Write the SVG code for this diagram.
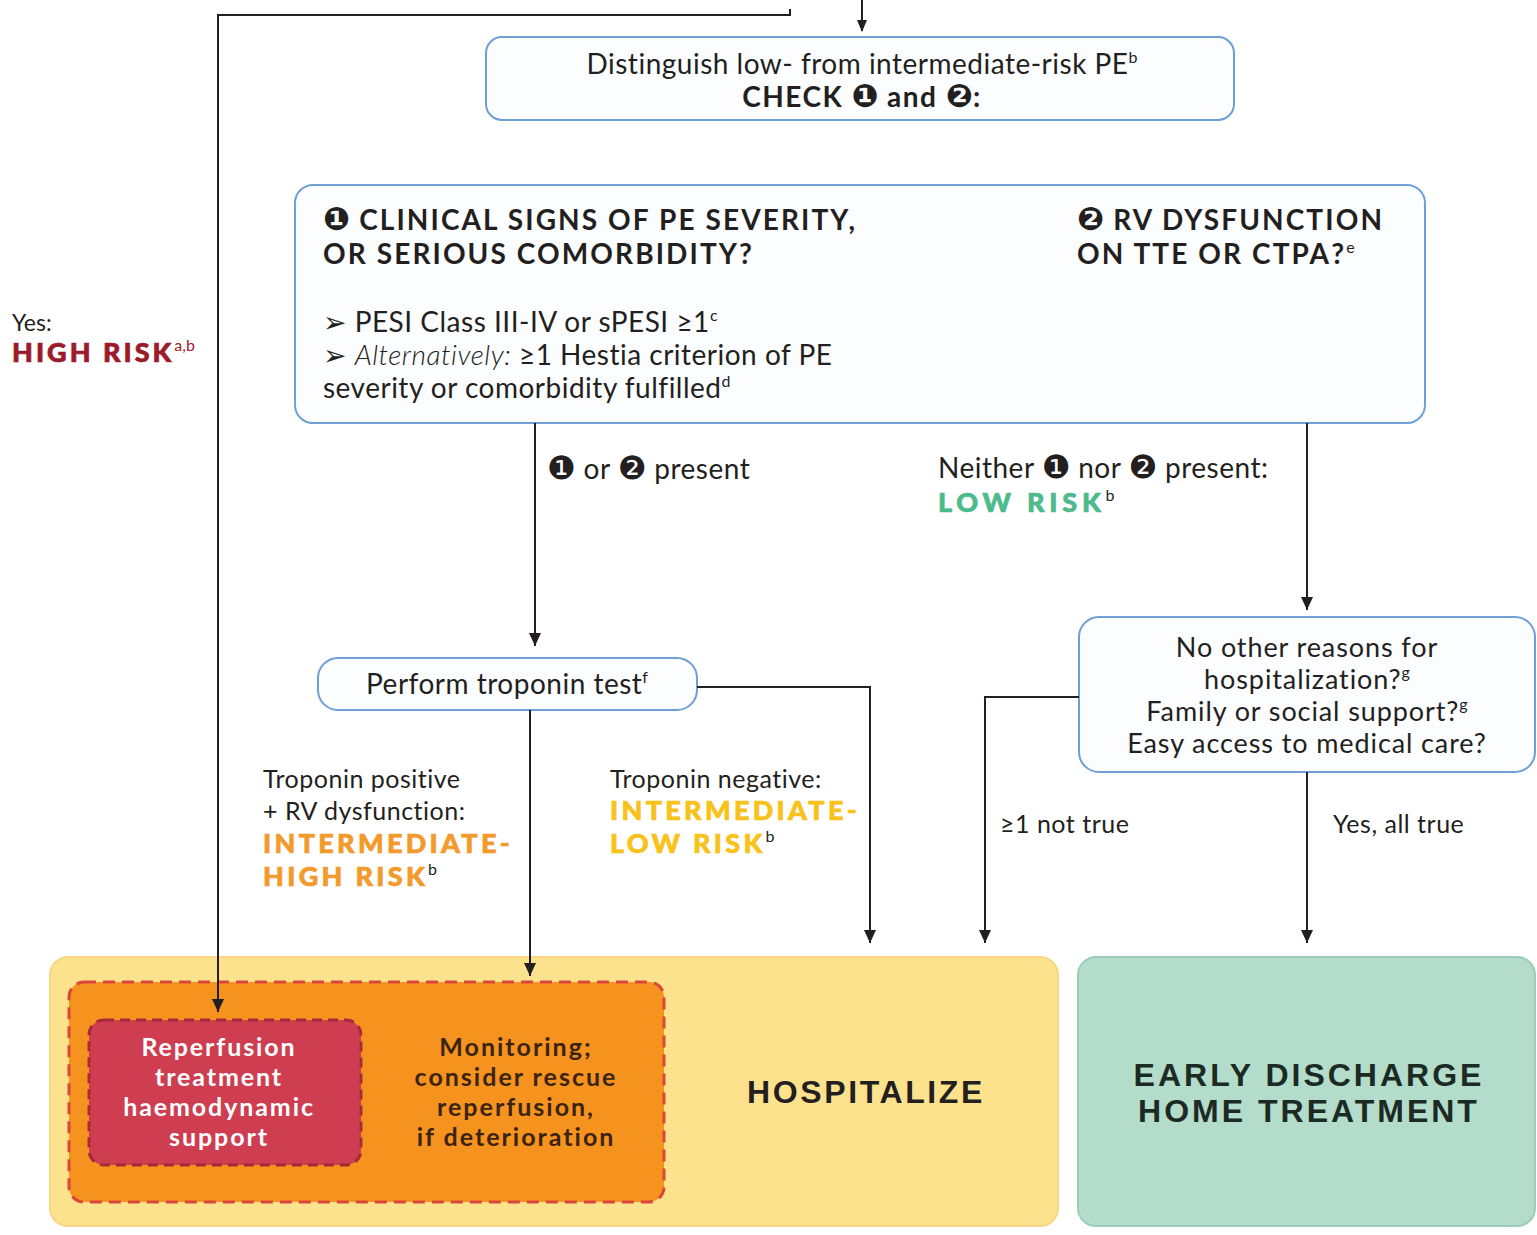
<svg xmlns="http://www.w3.org/2000/svg" width="1537" height="1235" viewBox="0 0 1537 1235">
<style>
text{font-family:Lato,"Open Sans","DejaVu Sans",sans-serif;fill:#231f20}
.t{font-size:28px;letter-spacing:0.5px}
.h{font-size:28px;font-weight:bold;letter-spacing:2.1px}
.c{text-anchor:middle}
.n{font-family:"DejaVu Sans",sans-serif;font-size:1.15em;letter-spacing:0}
.sup{font-size:16px;letter-spacing:0;font-weight:normal;stroke:none}
.s{font-size:25px;letter-spacing:0.5px}
.line{fill:none;stroke:#231f20;stroke-width:2}
.head{fill:#231f20}
.box{fill:#fbfdff;stroke:#6f9fd4;stroke-width:2}
.lbl{font-size:27px;font-weight:900;letter-spacing:3.3px;stroke-width:0.7px}
.w{font-size:25px;font-weight:bold;letter-spacing:1.9px;fill:#ffffff}
.m{font-size:25px;font-weight:bold;letter-spacing:2px;fill:#3a2410}
.big{font-family:"Liberation Sans",Arial,sans-serif;font-size:32px;font-weight:bold;letter-spacing:3px}
.orange{fill:#f39a2c;stroke:#f39a2c}
.yellow{fill:#f8c21b;stroke:#f8c21b}
.green{fill:#4dba8b;stroke:#4dba8b}
</style>
<rect width="1537" height="1235" fill="#ffffff"/>

<g id="yes-high-risk">
<text x="12" y="331" style="font-size:23px">Yes:</text>
<text class="lbl" x="12" y="362" style="fill:#9b1b2a;stroke:#9b1b2a;letter-spacing:3px">HIGH RISK<tspan class="sup" dy="-11" style="fill:#9b1b2a">a,b</tspan></text>
</g>

<g id="node-distinguish">
<rect class="box" x="486" y="37" width="748" height="83" rx="16"/>
<text class="t c" x="862" y="74">Distinguish low- from intermediate-risk PE<tspan class="sup" dy="-11">b</tspan></text>
<text class="t c" x="862" y="107" style="font-weight:bold;letter-spacing:1.5px">CHECK <tspan class="n">❶</tspan> and <tspan class="n">❷</tspan>:</text>
</g>

<g id="node-check">
<rect class="box" x="295" y="185" width="1130" height="238" rx="18"/>
<text class="h" x="323" y="230"><tspan class="n">❶</tspan> CLINICAL SIGNS OF PE SEVERITY,</text>
<text class="h" x="323" y="264">OR SERIOUS COMORBIDITY?</text>
<text class="t" x="323" y="332">➢ PESI Class III-IV or sPESI ≥1<tspan class="sup" dy="-11">c</tspan></text>
<text class="t" x="323" y="365">➢ <tspan font-style="italic" style="font-weight:300">Alternatively:</tspan> ≥1 Hestia criterion of PE</text>
<text class="t" x="323" y="398">severity or comorbidity fulfilled<tspan class="sup" dy="-11">d</tspan></text>
<text class="h" x="1077" y="230"><tspan class="n">❷</tspan> RV DYSFUNCTION</text>
<text class="h" x="1077" y="264">ON TTE OR CTPA?<tspan class="sup" dy="-11">e</tspan></text>
</g>

<g id="labels-branch">
<text class="t" x="547" y="479"><tspan class="n">❶</tspan> or <tspan class="n">❷</tspan> present</text>
<text class="t" x="938" y="478">Neither <tspan class="n">❶</tspan> nor <tspan class="n">❷</tspan> present:</text>
<text class="lbl green" x="938" y="512" style="letter-spacing:4.8px">LOW RISK<tspan class="sup" dy="-11" style="fill:#231f20">b</tspan></text>
</g>

<g id="node-troponin">
<rect class="box" x="318" y="658" width="379" height="52" rx="20"/>
<text class="t c" x="507" y="694">Perform troponin test<tspan class="sup" dy="-11">f</tspan></text>
</g>

<g id="labels-troponin">
<text class="s" x="263" y="788">Troponin positive</text>
<text class="s" x="263" y="820">+ RV dysfunction:</text>
<text class="lbl orange" x="263" y="853">INTERMEDIATE-</text>
<text class="lbl orange" x="263" y="886">HIGH RISK<tspan class="sup" dy="-11" style="fill:#231f20">b</tspan></text>
<text class="s" x="610" y="788">Troponin negative:</text>
<text class="lbl yellow" x="610" y="820">INTERMEDIATE-</text>
<text class="lbl yellow" x="610" y="853">LOW RISK<tspan class="sup" dy="-11" style="fill:#231f20">b</tspan></text>
</g>

<g id="node-other-reasons">
<rect class="box" x="1079" y="617" width="456" height="155" rx="20"/>
<text class="t c" x="1307" y="657" style="font-size:27px;letter-spacing:0.9px">No other reasons for</text>
<text class="t c" x="1307" y="689" style="font-size:27px;letter-spacing:0.9px">hospitalization?<tspan class="sup" dy="-11">g</tspan></text>
<text class="t c" x="1307" y="721" style="font-size:27px;letter-spacing:0.9px">Family or social support?<tspan class="sup" dy="-11">g</tspan></text>
<text class="t c" x="1307" y="753" style="font-size:27px;letter-spacing:0.9px">Easy access to medical care?</text>
</g>

<g id="labels-other">
<text class="s" x="1000" y="833">≥1 not true</text>
<text class="s" x="1333" y="833">Yes, all true</text>
</g>

<g id="node-hospitalize">
<rect x="50" y="957" width="1008" height="269" rx="18" fill="#fde28e" stroke="#f8d582" stroke-width="2"/>
<text class="c big" x="866" y="1103" style="letter-spacing:2.6px">HOSPITALIZE</text>
</g>

<g id="node-intermediate">
<rect x="69" y="982" width="595" height="220" rx="15" fill="#f6921e" stroke="#d9473b" stroke-width="3" stroke-dasharray="12,7"/>
<text class="c m" x="516" y="1056">Monitoring;</text>
<text class="c m" x="516" y="1086">consider rescue</text>
<text class="c m" x="516" y="1116">reperfusion,</text>
<text class="c m" x="516" y="1146">if deterioration</text>
</g>

<g id="node-reperfusion">
<rect x="89" y="1020" width="272" height="145" rx="15" fill="#cf3e50" stroke="#a52a3a" stroke-width="3" stroke-dasharray="10,6"/>
<text class="c w" x="219" y="1056">Reperfusion</text>
<text class="c w" x="219" y="1086">treatment</text>
<text class="c w" x="219" y="1116">haemodynamic</text>
<text class="c w" x="219" y="1146">support</text>
</g>

<g id="node-discharge">
<rect x="1078" y="957" width="457" height="269" rx="18" fill="#b3dcca" stroke="#9ccdb8" stroke-width="2"/>
<text class="c big" x="1309" y="1086" style="fill:#1c2a24">EARLY DISCHARGE</text>
<text class="c big" x="1309" y="1122" style="fill:#1c2a24">HOME TREATMENT</text>
</g>

<g id="connectors">
<path class="line" d="M790,9 V15 H218 V1012"/>
<path class="line" d="M862,0 V31"/>
<path class="line" d="M535,423 V646"/>
<path class="line" d="M1307,423 V610"/>
<path class="line" d="M697,687 H870 V943"/>
<path class="line" d="M530,710 V976"/>
<path class="line" d="M1079,697 H985 V943"/>
<path class="line" d="M1307,772 V943"/>
<path class="head" d="M857,20 L867,20 L862,32 Z"/>
<path class="head" d="M529,633 L541,633 L535,646 Z"/>
<path class="head" d="M1301,597 L1313,597 L1307,610 Z"/>
<path class="head" d="M864,930 L876,930 L870,943 Z"/>
<path class="head" d="M524,963 L536,963 L530,976 Z"/>
<path class="head" d="M979,930 L991,930 L985,943 Z"/>
<path class="head" d="M1301,930 L1313,930 L1307,943 Z"/>
<path class="head" d="M212,999 L224,999 L218,1012 Z"/>
</g>
</svg>
